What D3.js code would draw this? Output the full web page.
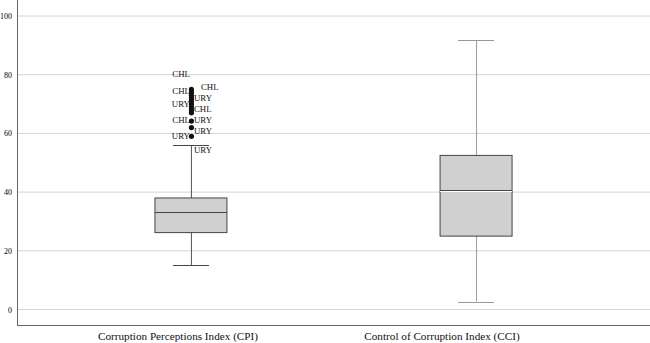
<!DOCTYPE html>
<html>
<head>
<meta charset="utf-8">
<script src="https://cdn.jsdelivr.net/npm/d3@7"></script>
<style>
  body { margin: 0; background: #fff; }
  svg { display: block; font-family: "Liberation Serif", "DejaVu Serif", serif; }
</style>
</head>
<body>
<svg width="650" height="343"></svg>
<script>
const width = 650;
const height = 343;

// data
const categories = ["Corruption Perceptions Index (CPI)", "Control of Corruption Index (CCI)"];
const lowerWhisker = [15, 2.7];
const q1 = [26.2, 25];
const median = [33.1, 40.3];
const q3 = [38, 52.5];
const upperWhisker = [56, 91.8];
const yTicks = [0, 20, 40, 60, 80, 100];

// outliers of CPI
const outlierValues = [75, 74, 73, 72, 71, 70, 69, 68, 67, 64.2, 62, 59];
const outlierLabels = ["CHL", "CHL", "CHL", "URY", "URY", "CHL", "CHL", "URY", "URY", "URY", "URY"];
const outlierLabelValues = [80.1, 75.9, 74.5, 71.9, 70.1, 68.4, 64.6, 64.6, 59.2, 60.7, 54.5];
const outlierLabelSide = ["L", "RR", "L", "R", "L", "R", "L", "R", "L", "R", "R"];

const svg = d3.select("svg");

const y = d3.scaleLinear().domain([0, 100]).range([309.5, 16]);
const x = d3.scalePoint().domain(categories).range([17, 650]).padding(0.61);
const xLabel = d3.scalePoint().domain(categories).range([178, 442]);

// gridlines
svg.append("g")
  .selectAll("line")
  .data(yTicks)
  .enter()
  .append("line")
  .attr("x1", 17)
  .attr("x2", 650)
  .attr("y1", (d) => y(d))
  .attr("y2", (d) => y(d))
  .attr("stroke", "#d4d4d4")
  .attr("stroke-width", 1);

// axes
const yAxis = svg.append("g")
  .attr("transform", "translate(17,0)")
  .call(d3.axisLeft(y).tickValues(yTicks).tickSize(0).tickPadding(5));
yAxis.select(".domain").remove();
yAxis.selectAll("text")
  .attr("font-family", "Liberation Serif")
  .attr("font-size", 8)
  .attr("fill", "#000");

svg.append("line")
  .attr("x1", 17.5).attr("x2", 17.5)
  .attr("y1", 0).attr("y2", 325.5)
  .attr("stroke", "#666");
svg.append("line")
  .attr("x1", 17).attr("x2", 650)
  .attr("y1", 325.5).attr("y2", 325.5)
  .attr("stroke", "#666");

svg.append("g")
  .selectAll("text")
  .data(categories)
  .enter()
  .append("text")
  .attr("x", (d) => xLabel(d))
  .attr("y", 340)
  .attr("text-anchor", "middle")
  .attr("font-size", 11.2)
  .attr("fill", "#111")
  .text((d) => d);

// box plots
const boxWidth = 72;
const capWidth = 36;

const boxes = svg.append("g")
  .selectAll("g")
  .data(categories)
  .enter()
  .append("g");

boxes.append("line")
  .attr("x1", (d) => x(d) + 0.5)
  .attr("x2", (d) => x(d) + 0.5)
  .attr("y1", (d, i) => y(lowerWhisker[i]))
  .attr("y2", (d, i) => y(upperWhisker[i]))
  .attr("stroke", (d, i) => (i === 0 ? "#555" : "#999"));

boxes.selectAll(".cap")
  .data((d, i) => [
    { c: d, v: lowerWhisker[i], i },
    { c: d, v: upperWhisker[i], i },
  ])
  .enter()
  .append("line")
  .attr("class", "cap")
  .attr("x1", (d) => x(d.c) - capWidth / 2)
  .attr("x2", (d) => x(d.c) + capWidth / 2)
  .attr("y1", (d) => Math.round(y(d.v)) + 0.5)
  .attr("y2", (d) => Math.round(y(d.v)) + 0.5)
  .attr("stroke", (d) => (d.i === 0 ? "#444" : "#999"));

boxes.append("rect")
  .attr("x", (d) => x(d) - boxWidth / 2)
  .attr("y", (d, i) => y(q3[i]))
  .attr("width", boxWidth)
  .attr("height", (d, i) => y(q1[i]) - y(q3[i]))
  .attr("fill", "#d0d0d0")
  .attr("stroke", "#444");

boxes.append("line")
  .attr("x1", (d) => x(d) - boxWidth / 2)
  .attr("x2", (d) => x(d) + boxWidth / 2)
  .attr("y1", (d, i) => Math.round(y(median[i])) + 0.5)
  .attr("y2", (d, i) => Math.round(y(median[i])) + 0.5)
  .attr("stroke", (d, i) => (i === 0 ? "#444" : "#fff"));

// median of CCI: dark line with a light edge below
boxes.filter((d, i) => i === 1)
  .append("line")
  .attr("x1", (d) => x(d) - boxWidth / 2)
  .attr("x2", (d) => x(d) + boxWidth / 2)
  .attr("y1", (d) => Math.round(y(median[1])) - 0.5)
  .attr("y2", (d) => Math.round(y(median[1])) - 0.5)
  .attr("stroke", "#444");

// outliers
const cpi = categories[0];
svg.append("g")
  .selectAll("circle")
  .data(outlierValues)
  .enter()
  .append("circle")
  .attr("cx", x(cpi) + 0.5)
  .attr("cy", (d) => y(d))
  .attr("r", 2.6)
  .attr("fill", "#111");

const labelX = (i) => {
  const s = outlierLabelSide[i];
  if (s === "L") return x(cpi) - 1;
  if (s === "RR") return x(cpi) + 10;
  return x(cpi) + 3;
};

svg.append("g")
  .selectAll("text")
  .data(outlierLabels)
  .enter()
  .append("text")
  .attr("x", (d, i) => labelX(i))
  .attr("y", (d, i) => y(outlierLabelValues[i]) + 3)
  .attr("text-anchor", (d, i) => (outlierLabelSide[i] === "L" ? "end" : "start"))
  .attr("font-size", 8.8)
  .attr("fill", "#111")
  .text((d) => d);
</script>
</body>
</html>
